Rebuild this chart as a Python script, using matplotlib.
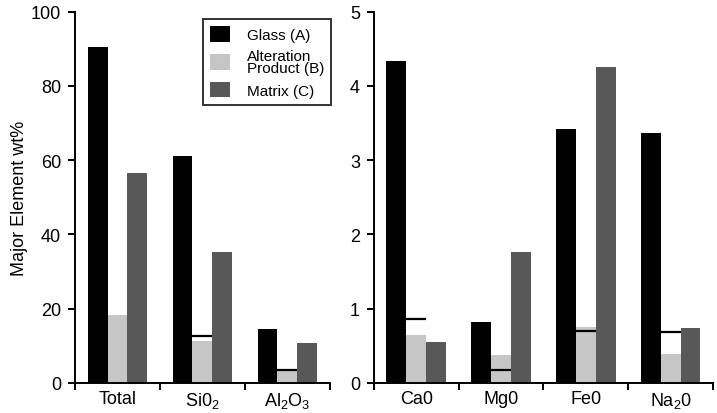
import numpy as np
import matplotlib
matplotlib.use("Agg")
import matplotlib.pyplot as plt
from matplotlib.patches import Patch

plt.rcParams['font.family'] = ['Liberation Sans', 'DejaVu Sans']
plt.rcParams['font.size'] = 13

# bulk / major oxides (wt%)
major_labels = ["Total", "Si0$_\\mathregular{2}$", "Al$_\\mathregular{2}$O$_\\mathregular{3}$"]
major_glass = [90.4, 61.0, 14.5]
major_alter = [18.4, 11.2, 3.1]
major_matrix = [56.5, 35.2, 10.8]
major_mark = [np.nan, 12.7, 3.4]

# minor oxides (wt%)
minor_labels = ["Ca0", "Mg0", "Fe0", "Na$_\\mathregular{2}$0"]
minor_glass = [4.34, 0.82, 3.42, 3.37]
minor_alter = [0.64, 0.38, 0.76, 0.39]
minor_matrix = [0.55, 1.77, 4.26, 0.74]
minor_mark = [0.86, 0.17, 0.70, 0.69]

series_names = ["Glass (A)", "Alteration\nProduct (B)", "Matrix (C)"]
colors = ["#000000", "#c6c6c6", "#585858"]
bw = 0.235

fig = plt.figure(figsize=(7.17, 4.14), dpi=100)
ax1 = fig.add_axes([0.1046, 0.0725, 0.3556, 0.897])
ax2 = fig.add_axes([0.5216, 0.0725, 0.4728, 0.897])


def draw(ax, labels, glass, alter, matrix, mark, ymax, yticks):
    x = np.arange(len(labels))
    for off, vals, c in zip((-bw, 0, bw), (glass, alter, matrix), colors):
        ax.bar(x + off, vals, width=bw, color=c, edgecolor='none')
    for xi, m in zip(x, mark):
        if not np.isnan(m):
            ax.hlines(m, xi - bw / 2, xi + bw / 2, color='black', lw=1.6)
    ax.set_xlim(-0.5, len(labels) - 0.5)
    ax.set_ylim(0, ymax)
    ax.set_yticks(yticks)
    # group separators as major ticks, names as minor ticks
    ax.set_xticks(np.arange(len(labels) + 1) - 0.5)
    ax.set_xticklabels([])
    ax.set_xticks(x, minor=True)
    ax.set_xticklabels(labels, minor=True)
    ax.tick_params(axis='x', which='minor', length=0, pad=5)
    ax.tick_params(axis='x', which='major', length=5, width=1.4, direction='out')
    ax.tick_params(axis='y', length=5, width=1.4, direction='out', pad=5)
    for s in ('top', 'right'):
        ax.spines[s].set_visible(False)
    for s in ('left', 'bottom'):
        ax.spines[s].set_linewidth(1.4)


draw(ax1, major_labels, major_glass, major_alter, major_matrix, major_mark,
     100, [0, 20, 40, 60, 80, 100])
draw(ax2, minor_labels, minor_glass, minor_alter, minor_matrix, minor_mark,
     5, [0, 1, 2, 3, 4, 5])

ax1.set_ylabel("Major Element wt%", labelpad=2)

handles = [Patch(facecolor=c, edgecolor='none') for c in colors]
leg = ax1.legend(handles, series_names, loc='upper right',
                 bbox_to_anchor=(1.035, 1.0), frameon=True, fancybox=False,
                 edgecolor='black', handlelength=1.3, handleheight=1.2,
                 labelspacing=0.45, borderpad=0.45, handletextpad=1.1,
                 fontsize=11)
leg.get_frame().set_linewidth(1.4)
for t in leg.get_texts():
    t.set_linespacing(0.8)

fig.savefig("out.png", dpi=100)
